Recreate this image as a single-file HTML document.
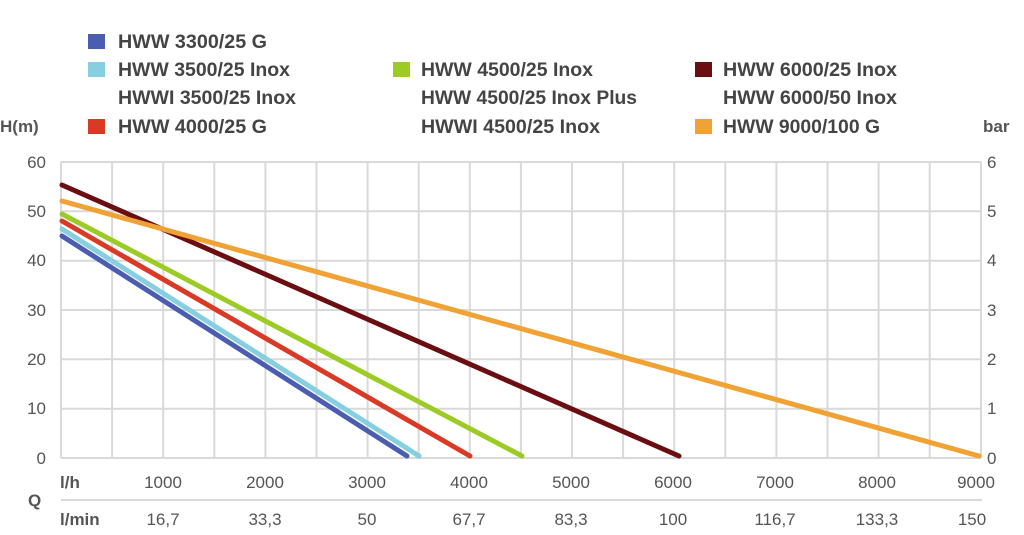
<!DOCTYPE html>
<html><head><meta charset="utf-8"><style>
html,body{margin:0;padding:0;background:#fff;}
svg{display:block;font-family:"Liberation Sans",sans-serif;}
</style></head><body>
<svg width="1024" height="535" viewBox="0 0 1024 535">
<g stroke="#d9d9d9" stroke-width="2" fill="none">
<line x1="61" y1="162" x2="981" y2="162"/>
<line x1="61" y1="211.3" x2="981" y2="211.3"/>
<line x1="61" y1="260.7" x2="981" y2="260.7"/>
<line x1="61" y1="310" x2="981" y2="310"/>
<line x1="61" y1="359.3" x2="981" y2="359.3"/>
<line x1="61" y1="408.7" x2="981" y2="408.7"/>
<line x1="61" y1="458" x2="981" y2="458"/>
<line x1="61" y1="162" x2="61" y2="458"/><line x1="112.1" y1="162" x2="112.1" y2="458"/><line x1="163.2" y1="162" x2="163.2" y2="458"/><line x1="214.3" y1="162" x2="214.3" y2="458"/><line x1="265.4" y1="162" x2="265.4" y2="458"/><line x1="316.5" y1="162" x2="316.5" y2="458"/><line x1="367.6" y1="162" x2="367.6" y2="458"/><line x1="418.7" y1="162" x2="418.7" y2="458"/><line x1="469.8" y1="162" x2="469.8" y2="458"/><line x1="520.9" y1="162" x2="520.9" y2="458"/><line x1="572" y1="162" x2="572" y2="458"/><line x1="623.1" y1="162" x2="623.1" y2="458"/><line x1="674.2" y1="162" x2="674.2" y2="458"/><line x1="725.3" y1="162" x2="725.3" y2="458"/><line x1="776.4" y1="162" x2="776.4" y2="458"/><line x1="827.5" y1="162" x2="827.5" y2="458"/><line x1="878.6" y1="162" x2="878.6" y2="458"/><line x1="929.7" y1="162" x2="929.7" y2="458"/><line x1="981" y1="162" x2="981" y2="458"/>
<line x1="61" y1="500" x2="982" y2="500"/>
</g>
<g stroke-width="5" stroke-linecap="round" fill="none">
<line x1="62" y1="236" x2="407" y2="456" stroke="#4a5db0"/>
<line x1="62" y1="229" x2="419" y2="456" stroke="#86cfe0"/>
<line x1="62" y1="221" x2="470" y2="456" stroke="#d93a26"/>
<line x1="62" y1="214" x2="522" y2="456" stroke="#9dcb25"/>
<line x1="62" y1="185" x2="679" y2="456" stroke="#6b0e12"/>
<line x1="62" y1="201" x2="979" y2="456" stroke="#f0a235"/>
</g>
<g fill="#555" font-size="17">
<g text-anchor="end">
<text x="46" y="168">60</text><text x="46" y="217">50</text><text x="46" y="266">40</text><text x="46" y="316">30</text><text x="46" y="365">20</text><text x="46" y="414">10</text><text x="46" y="464">0</text>
</g>
<text x="987" y="168">6</text><text x="987" y="217">5</text><text x="987" y="266">4</text><text x="987" y="316">3</text><text x="987" y="365">2</text><text x="987" y="414">1</text><text x="987" y="464">0</text>
<text x="0" y="132" font-weight="bold">H(m)</text>
<text x="983" y="132" font-weight="bold">bar</text>
<text x="60" y="488" font-weight="bold">l/h</text>
<text x="28" y="506" font-weight="bold">Q</text>
<text x="60" y="525" font-weight="bold">l/min</text>
<g text-anchor="middle">
<text x="163" y="488">1000</text><text x="265" y="488">2000</text><text x="367" y="488">3000</text><text x="469" y="488">4000</text><text x="571" y="488">5000</text><text x="673" y="488">6000</text><text x="775" y="488">7000</text><text x="877" y="488">8000</text><text x="976" y="488">9000</text>
<text x="163" y="525">16,7</text><text x="265" y="525">33,3</text><text x="367" y="525">50</text><text x="469" y="525">67,7</text><text x="571" y="525">83,3</text><text x="673" y="525">100</text><text x="775" y="525">116,7</text><text x="877" y="525">133,3</text><text x="972" y="525">150</text>
</g>
</g>
<rect x="88" y="34" width="17" height="15" fill="#4a5db0"/>
<rect x="88" y="62" width="17" height="15" fill="#86cfe0"/>
<rect x="88" y="119" width="17" height="15" fill="#d93a26"/>
<rect x="393" y="62" width="17" height="15" fill="#9dcb25"/>
<rect x="695" y="62" width="17" height="15" fill="#6b0e12"/>
<rect x="695" y="119" width="17" height="15" fill="#f0a235"/>
<g fill="#444" font-size="19" font-weight="bold">
<text x="118" y="48" textLength="149" lengthAdjust="spacingAndGlyphs">HWW 3300/25 G</text>
<text x="118" y="76" textLength="172" lengthAdjust="spacingAndGlyphs">HWW 3500/25 Inox</text>
<text x="118" y="104" textLength="178" lengthAdjust="spacingAndGlyphs">HWWI 3500/25 Inox</text>
<text x="118" y="133" textLength="149" lengthAdjust="spacingAndGlyphs">HWW 4000/25 G</text>
<text x="421" y="76" textLength="172" lengthAdjust="spacingAndGlyphs">HWW 4500/25 Inox</text>
<text x="421" y="104" textLength="216" lengthAdjust="spacingAndGlyphs">HWW 4500/25 Inox Plus</text>
<text x="421" y="133" textLength="179" lengthAdjust="spacingAndGlyphs">HWWI 4500/25 Inox</text>
<text x="723" y="76" textLength="174" lengthAdjust="spacingAndGlyphs">HWW 6000/25 Inox</text>
<text x="723" y="104" textLength="174" lengthAdjust="spacingAndGlyphs">HWW 6000/50 Inox</text>
<text x="723" y="133" textLength="157" lengthAdjust="spacingAndGlyphs">HWW 9000/100 G</text>
</g>
</svg>
</body></html>
